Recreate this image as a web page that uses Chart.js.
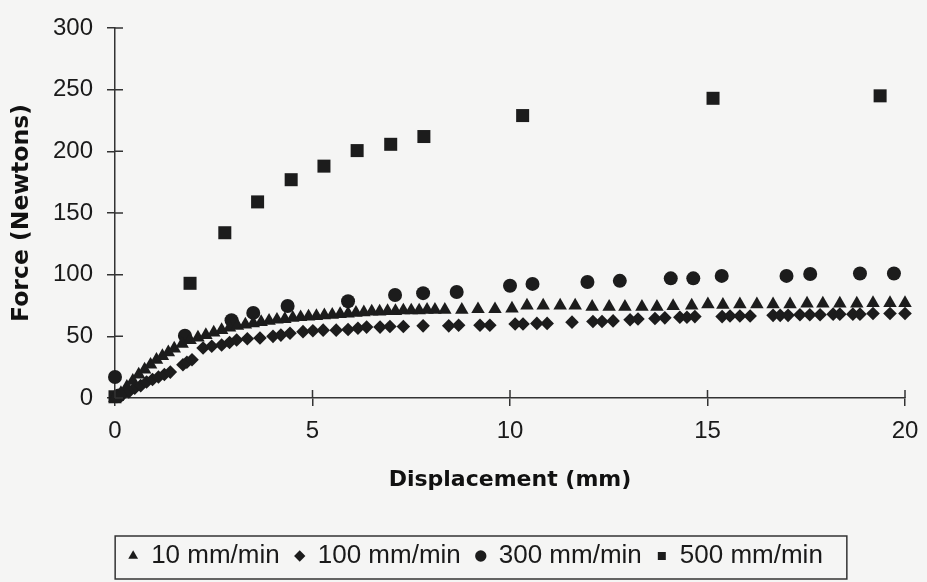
<!DOCTYPE html>
<html>
<head>
<meta charset="utf-8">
<script src="https://cdn.jsdelivr.net/npm/chart.js@4.4.1/dist/chart.umd.min.js"></script>
<style>
  html, body { margin: 0; padding: 0; background: #f5f5f4; }
  #box { width: 927px; height: 582px; position: relative; }
</style>
</head>
<body>
<div id="box"><canvas id="chart-forca"></canvas></div>
<script>
// series: displacement (mm) / force (N)
var seriesNames = ["10 mm/min", "100 mm/min", "300 mm/min", "500 mm/min"];

var x10 = [0, 0.15, 0.3, 0.45, 0.6, 0.75, 0.9, 1.05, 1.2, 1.35, 1.5, 1.7, 1.9, 2.1, 2.3, 2.5, 2.7, 2.9,
  3.1, 3.3, 3.5, 3.7, 3.9, 4.1, 4.3, 4.5, 4.7, 4.9, 5.1, 5.3, 5.5, 5.7, 5.9, 6.1, 6.3, 6.5, 6.7, 6.9,
  7.1, 7.3, 7.5, 7.7, 7.9, 8.1, 8.35, 8.78, 9.19, 9.62, 10.05, 10.43, 10.84, 11.27, 11.65, 12.08,
  12.51, 12.91, 13.34, 13.72, 14.13, 14.6, 15.01, 15.39, 15.82, 16.25, 16.66, 17.09, 17.52, 17.92,
  18.35, 18.78, 19.19, 19.62, 20.0];
var y10 = [0, 4, 9, 14, 19, 23, 27, 31, 34, 37, 40, 44, 47, 49, 51, 53, 55, 57,
  58.5, 59.5, 60.5, 61.5, 62.5, 63.5, 64, 65, 65.5, 66, 66.5, 67, 67.5, 68, 68.5, 69, 69.5, 70, 70, 70.5,
  70.5, 71, 71, 71, 71.5, 71.5, 71.5, 71.5, 72, 72, 72.5, 75, 75, 75, 75, 74,
  74, 74, 74, 74, 74.5, 75, 76, 75.5, 76, 76, 76, 76, 76.5, 76.5,
  76.5, 76.5, 77, 77, 77];

var x100 = [0.05, 0.2, 0.35, 0.5, 0.65, 0.8, 0.95, 1.1, 1.25, 1.4, 1.72, 1.82, 1.95, 2.23, 2.45, 2.7,
  2.9, 3.08, 3.35, 3.67, 4.0, 4.2, 4.43, 4.76, 5.01, 5.27, 5.6, 5.9, 6.15, 6.37, 6.71, 6.96, 7.3,
  7.8, 8.45, 8.7, 9.24, 9.49, 10.13, 10.33, 10.68, 10.94, 11.57, 12.1, 12.33, 12.61, 13.04, 13.24,
  13.67, 13.92, 14.3, 14.48, 14.68, 15.37, 15.57, 15.82, 16.08, 16.66, 16.84, 17.04, 17.34, 17.59,
  17.85, 18.18, 18.35, 18.68, 18.86, 19.19, 19.62, 20.0];
var y100 = [1, 3, 5, 8, 10, 13, 15, 17, 19, 21, 27, 29, 31, 40.5, 42, 43,
  45, 47, 48, 48.6, 50, 51, 52.5, 53.8, 54.5, 55, 55, 55.5, 56.5, 57.5, 57.5, 58, 58,
  58.5, 58.5, 59, 59, 59, 60, 60, 60.5, 60.5, 61.5, 62, 62, 62.5, 63.5, 64,
  64.5, 65, 65.5, 65.5, 66, 66, 66.5, 66.5, 66.5, 67, 67, 67, 67.5, 67.5,
  67.5, 68, 68, 68, 68, 68.5, 68.5, 68.5];

var x300 = [0, 0.1, 1.77, 2.95, 3.5, 4.37, 5.9, 7.09, 7.8, 8.65, 10.0, 10.57, 11.96, 12.78, 14.07,
  14.64, 15.36, 17.0, 17.6, 18.86, 19.72];
var y300 = [17, 2, 50.5, 63, 69, 74.6, 78.5, 83.5, 85, 86, 91, 92.5, 94, 95, 97,
  97, 99, 99, 100.6, 101, 101];

var x500 = [0, 1.9, 2.78, 3.61, 4.46, 5.29, 6.13, 6.98, 7.82, 10.32, 15.14, 19.37];
var y500 = [1, 93, 134, 159, 177, 188, 200.6, 205.7, 212, 229, 243, 245];

var xTicksStep = 5;
var yTicksStep = 50;

var corMarca = "#1c1c1c";
var corEixo = "#333333";

function toPoints(xs, ys) {
  var pts = [];
  for (var i = 0; i < xs.length; i++) {
    pts.push({ x: xs[i], y: ys[i] });
  }
  return pts;
}

function serie(nome, xs, ys, estilo, raio) {
  return {
    label: nome,
    data: toPoints(xs, ys),
    pointStyle: estilo,
    pointRadius: raio,
    pointHoverRadius: raio,
    backgroundColor: corMarca,
    borderColor: corMarca,
    borderWidth: 0,
    pointBorderWidth: 0,
    showLine: false,
    clip: false,
  };
}

// ticks that cross the axis line (the library only draws the outer half)
var crossTicks = {
  id: "crossTicks",
  afterDraw: function (chart) {
    var ctx = chart.ctx;
    var xs = chart.scales.x;
    var ys = chart.scales.y;
    var area = chart.chartArea;
    ctx.save();
    ctx.strokeStyle = corEixo;
    ctx.lineWidth = 1.5;
    ctx.beginPath();
    xs.ticks.forEach(function (t) {
      var px = xs.getPixelForValue(t.value);
      ctx.moveTo(px, area.bottom);
      ctx.lineTo(px, area.bottom - 8);
    });
    ys.ticks.forEach(function (t) {
      var py = ys.getPixelForValue(t.value);
      ctx.moveTo(area.left, py);
      ctx.lineTo(area.left + 8, py);
    });
    ctx.stroke();
    ctx.restore();
  },
};

// frame around the legend
var legendFrame = {
  id: "legendFrame",
  afterDraw: function (chart) {
    var hb = chart.legend.legendHitBoxes;
    if (!hb || !hb.length) return;
    var ctx = chart.ctx;
    var last = hb[hb.length - 1];
    var cy = hb[0].top + hb[0].height / 2;
    var left = hb[0].left - 13;
    var right = last.left + last.width + 24;
    ctx.save();
    ctx.strokeStyle = corEixo;
    ctx.lineWidth = 1.5;
    ctx.strokeRect(left, cy - 20, right - left, 43);
    ctx.restore();
  },
};

var ctx1 = document.getElementById("chart-forca").getContext("2d");

var grafico = new Chart(ctx1, {
  type: "scatter",
  data: {
    datasets: [
      serie(seriesNames[0], x10, y10, "triangle", 7.8),
      serie(seriesNames[1], x100, y100, "rectRot", 6.8),
      serie(seriesNames[2], x300, y300, "circle", 7),
      serie(seriesNames[3], x500, y500, "rect", 9.2),
    ],
  },
  options: {
    responsive: true,
    maintainAspectRatio: false,
    animation: false,
    layout: {
      padding: { left: 24, right: 0, top: 0, bottom: 3 },
    },
    plugins: {
      tooltip: { enabled: false },
      legend: {
        display: true,
        position: "bottom",
        align: "center",
        labels: {
          usePointStyle: true,
          boxWidth: 10,
          boxHeight: 8,
          padding: 15,
          color: "#1a1a1a",
          font: { family: "Liberation Sans", size: 26 },
        },
      },
    },
    scales: {
      x: {
        type: "linear",
        min: 0,
        max: 20,
        afterFit: function (scale) {
          scale.height = 130;
          scale.paddingRight = 22;
        },
        border: { display: true, color: corEixo, width: 1.5 },
        grid: {
          display: true,
          drawOnChartArea: false,
          drawTicks: true,
          tickLength: 8,
          color: corEixo,
          lineWidth: 1.5,
        },
        ticks: {
          stepSize: xTicksStep,
          padding: 11,
          maxRotation: 0,
          color: "#1a1a1a",
          font: { family: "Liberation Sans", size: 24 },
        },
        title: {
          display: true,
          text: "Displacement (mm)",
          color: "#111111",
          padding: { top: 0, bottom: 35 },
          font: { family: "DejaVu Sans", size: 22, weight: "bold" },
        },
      },
      y: {
        type: "linear",
        min: 0,
        max: 300,
        afterFit: function (scale) {
          scale.width = 91;
          scale.paddingTop = 28;
        },
        border: { display: true, color: corEixo, width: 1.5 },
        grid: {
          display: true,
          drawOnChartArea: false,
          drawTicks: true,
          tickLength: 8,
          color: corEixo,
          lineWidth: 1.5,
        },
        ticks: {
          stepSize: yTicksStep,
          padding: 14,
          color: "#1a1a1a",
          font: { family: "Liberation Sans", size: 24 },
        },
        title: {
          display: true,
          text: "Force (Newtons)",
          color: "#111111",
          padding: { top: -16.6, bottom: 0 },
          font: { family: "DejaVu Sans", size: 23.5, weight: "bold" },
        },
      },
    },
  },
  plugins: [crossTicks, legendFrame],
});
</script>
</body>
</html>
